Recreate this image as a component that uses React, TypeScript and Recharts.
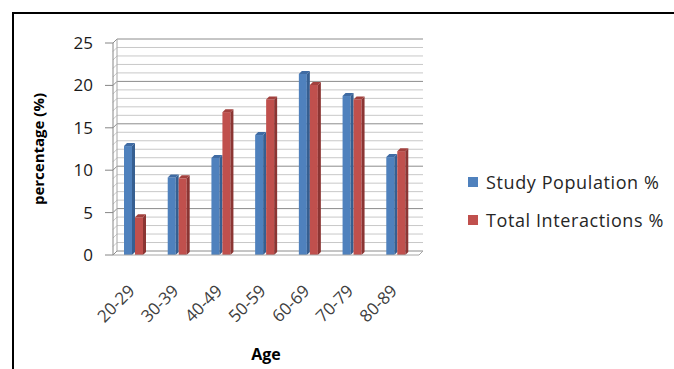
import React from 'react';
import { BarChart, Bar, XAxis, YAxis, CartesianGrid } from 'recharts';

const categories = ['20-29', '30-39', '40-49', '50-59', '60-69', '70-79', '80-89'];
const studyPopulation = [13.2, 9.5, 11.8, 14.5, 21.7, 19.1, 11.9];
const totalInteractions = [4.8, 9.4, 17.2, 18.7, 20.4, 18.7, 12.6];
const yTicks = [0, 5, 10, 15, 20, 25];
const minorValues = Array.from({ length: 26 }, (_, i) => i).filter((v) => v % 5 !== 0);
const seriesNames = ['Study Population %', 'Total Interactions %'];
const seriesColors = ['#4F81BD', '#C0504D'];

const data = categories.map((c, i) => ({
  age: c,
  study: studyPopulation[i],
  total: totalInteractions[i],
}));

const W = 674;
const H = 369;
const PLOT_LEFT = 113;
const PLOT_RIGHT = 419;
const PLOT_TOP = 43;
const PLOT_BOTTOM = 255;
const D = 4; // 3D depth
const FONT = '"Open Sans", Lato, sans-serif';

const makeBar = (front: string, side: string, top: string) => (props: any) => {
  const { x, y, width, height } = props;
  if (!height || height <= 0) return null;
  const d = 3;
  const b = y + height;
  return (
    <g>
      <rect x={x} y={y + d} width={width - d} height={height - d} fill={front} />
      <polygon
        points={`${x + width - d},${y + d} ${x + width},${y} ${x + width},${b - d} ${x + width - d},${b}`}
        fill={side}
      />
      <polygon
        points={`${x},${y + d} ${x + d},${y} ${x + width},${y} ${x + width - d},${y + d}`}
        fill={top}
      />
    </g>
  );
};

const gridLine = (color: string, isMajor: boolean) => (props: any) => {
  const { x1, x2, y1 } = props;
  const y = y1;
  const parts: any[] = [
    <path
      key="p"
      d={`M${x1},${y} L${x1 + D},${y - D} L${x2 + D},${y - D}`}
      stroke={color}
      strokeWidth={1}
      fill="none"
    />,
  ];
  if (isMajor && Math.abs(y - PLOT_BOTTOM) < 1) {
    parts.push(
      <line key="r" x1={x2} y1={y} x2={x2 + D} y2={y - D} stroke="#a6a6a6" strokeWidth={1} />
    );
  }
  if (isMajor && Math.abs(y - PLOT_TOP) < 1) {
    parts.push(
      <line key="w" x1={x1 + D} y1={y - D} x2={x1 + D} y2={PLOT_BOTTOM - D} stroke="#a6a6a6" strokeWidth={1} />
    );
  }
  return <g key={`g-${y}`}>{parts}</g>;
};

const XTick = (props: any) => {
  const { x, y, payload } = props;
  const ax = x + 1;
  const ay = y + 29;
  return (
    <text
      x={ax}
      y={ay}
      transform={`rotate(-45 ${ax} ${ay})`}
      textAnchor="end"
      fontSize={17}
      fontFamily={FONT}
      fill="#404040"
    >
      {payload.value}
    </text>
  );
};

export default function App() {
  return (
    <div style={{ position: 'absolute', left: 0, top: 0, width: W, height: H, background: '#fff' }}>
      <div
        style={{
          position: 'absolute',
          left: 12,
          top: 12,
          width: W - 12,
          height: H - 12,
          borderTop: '2px solid #000',
          borderLeft: '2px solid #000',
          boxSizing: 'border-box',
        }}
      />
      <div style={{ position: 'absolute', left: 0, top: 0 }}>
        <BarChart
          width={W}
          height={H}
          data={data}
          margin={{ top: PLOT_TOP, bottom: 0, left: PLOT_LEFT - 60, right: W - PLOT_RIGHT }}
          barGap={0}
          barSize={11}
        >
          <CartesianGrid
            vertical={false}
            horizontalValues={minorValues}
            horizontal={gridLine('#c8c8c8', false)}
          />
          <CartesianGrid
            vertical={false}
            horizontalValues={yTicks}
            horizontal={gridLine('#8c8c8c', true)}
          />
          <XAxis
            dataKey="age"
            axisLine={{ stroke: '#a6a6a6' }}
            tickLine={false}
            tick={<XTick />}
            interval={0}
            height={H - PLOT_BOTTOM}
            label={{
              value: 'Age',
              position: 'insideBottom',
              offset: 9,
              style: { fontFamily: FONT, fontSize: 16, fontWeight: 700, fill: '#000' },
            }}
          />
          <YAxis
            width={60}
            domain={[0, 25]}
            ticks={yTicks}
            interval={0}
            axisLine={{ stroke: '#868686' }}
            tickLine={{ stroke: '#868686' }}
            tickSize={8}
            tickMargin={12}
            tick={{ fontFamily: FONT, fontSize: 17, fill: '#1a1a1a' }}
            label={{
              value: 'percentage (%)',
              angle: -90,
              position: 'insideLeft',
              offset: -14,
              style: { fontFamily: FONT, fontSize: 15, fontWeight: 700, fill: '#000', textAnchor: 'middle' },
            }}
          />
          <Bar
            dataKey="study"
            name={seriesNames[0]}
            fill={seriesColors[0]}
            shape={makeBar(seriesColors[0], '#365F91', '#3F6BA3')}
            isAnimationActive={false}
          />
          <Bar
            dataKey="total"
            name={seriesNames[1]}
            fill={seriesColors[1]}
            shape={makeBar(seriesColors[1], '#8B3533', '#A2403D')}
            isAnimationActive={false}
          />
        </BarChart>
      </div>
      <div
        style={{
          position: 'absolute',
          left: 468,
          top: 163,
          fontFamily: FONT,
          fontSize: 18,
          letterSpacing: 0.6,
          color: '#262626',
          whiteSpace: 'nowrap',
        }}
      >
        {seriesNames.map((n, i) => (
          <div key={n} style={{ display: 'flex', alignItems: 'center', height: 38 }}>
            <span
              style={{
                display: 'inline-block',
                width: 10,
                height: 10,
                background: seriesColors[i],
                marginRight: 8,
              }}
            />
            <span>{n}</span>
          </div>
        ))}
      </div>
    </div>
  );
}
